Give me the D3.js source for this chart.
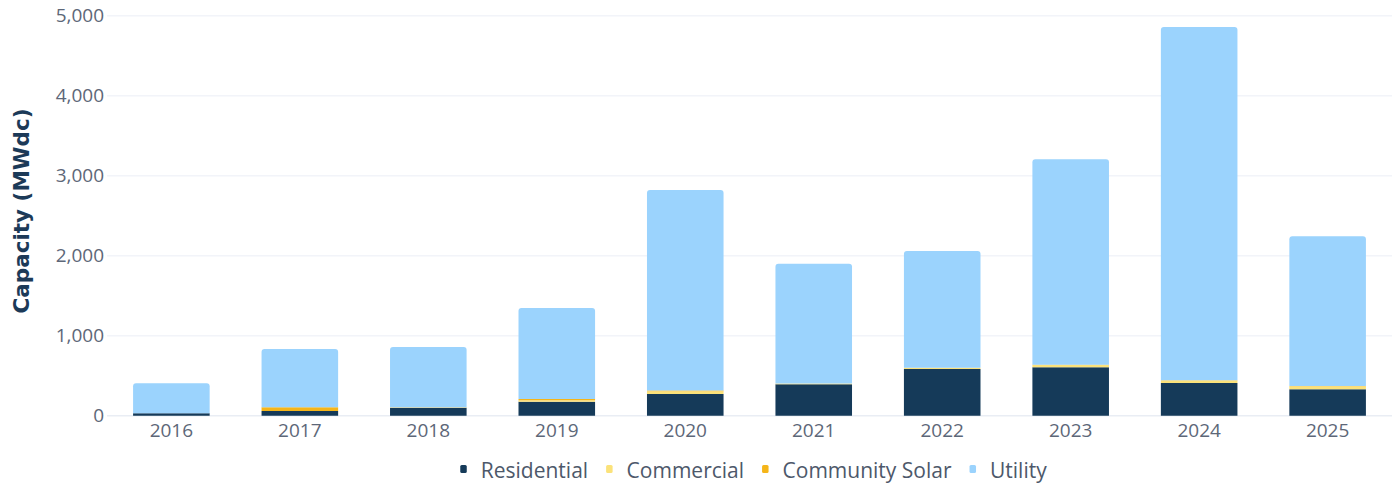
<!DOCTYPE html>
<html>
<head>
<meta charset="utf-8">
<script src="https://cdn.jsdelivr.net/npm/d3@7"></script>
<style>
  html, body { margin: 0; padding: 0; background: #ffffff; }
  svg { display: block; }
</style>
</head>
<body>
<svg id="chart" width="1397" height="484"></svg>
<script>
// ---- data ----
const years = ["2016","2017","2018","2019","2020","2021","2022","2023","2024","2025"];
const residential    = [30, 59, 100, 175, 271, 392, 584, 605, 409, 330];
const commercial     = [0, 0, 5, 18, 35, 10, 15, 30, 30, 38];
const communitySolar = [0, 46, 0, 15, 8, 0, 0, 3, 4, 3];
const utility        = [375, 728, 754, 1138, 2507, 1498, 1460, 2567, 4416, 1871];
const seriesNames = ["Residential", "Commercial", "Community Solar", "Utility"];
const yTicks = [0, 1000, 2000, 3000, 4000, 5000];

const colors = {
  "Residential": "#153a59",
  "Commercial": "#fbe27a",
  "Community Solar": "#f5b519",
  "Utility": "#9bd3fd"
};

const rows = years.map((y, i) => ({
  year: y,
  "Residential": residential[i],
  "Commercial": commercial[i],
  "Community Solar": communitySolar[i],
  "Utility": utility[i]
}));

const svg = d3.select("#chart");

const x = d3.scaleBand().domain(years).range([107, 1392]).paddingInner(0.404).paddingOuter(0.203);
const y = d3.scaleLinear().domain([0, 5000]).range([415.7, 15.7]);

// gridlines
svg.append("g").selectAll("line").data(yTicks).join("line")
  .attr("x1", 107).attr("x2", 1392)
  .attr("y1", d => y(d)).attr("y2", d => y(d))
  .attr("stroke", d => d === 0 ? "#e9edf4" : "#f2f4f9")
  .attr("stroke-width", 1.5);

// y tick labels
svg.append("g").selectAll("text").data(yTicks).join("text")
  .attr("x", 104).attr("y", d => y(d)).attr("dy", "0.35em")
  .attr("text-anchor", "end")
  .attr("font-family", "'Open Sans', sans-serif")
  .attr("font-size", 19)
  .attr("fill", "#5d6778")
  .text(d => d3.format(",")(d));

// y axis title
svg.append("text")
  .attr("transform", "translate(29,211) rotate(-90)")
  .attr("text-anchor", "middle")
  .attr("font-family", "'DejaVu Sans', sans-serif")
  .attr("font-weight", "bold")
  .attr("font-size", 21.5)
  .attr("fill", "#1c3a58")
  .text("Capacity (MWdc)");

// stacked bars
const stack = d3.stack().keys(seriesNames)(rows);
const topKey = seriesNames[seriesNames.length - 1];

function roundedTop(x0, y0, w, h, r) {
  r = Math.min(r, h, w / 2);
  return `M${x0},${y0 + h}V${y0 + r}Q${x0},${y0} ${x0 + r},${y0}H${x0 + w - r}Q${x0 + w},${y0} ${x0 + w},${y0 + r}V${y0 + h}Z`;
}

const gBars = svg.append("g");
stack.forEach(layer => {
  gBars.append("g").selectAll("path")
    .data(layer.filter(d => d[1] - d[0] > 0))
    .join("path")
    .attr("d", d => {
      const x0 = x(d.data.year), w = x.bandwidth();
      const y0 = y(d[1]), h = y(d[0]) - y(d[1]);
      return roundedTop(x0, y0, w, h, layer.key === topKey ? 3 : 0);
    })
    .attr("fill", colors[layer.key]);
});

// x labels
svg.append("g").selectAll("text").data(years).join("text")
  .attr("x", d => x(d) + x.bandwidth() / 2)
  .attr("y", 437)
  .attr("text-anchor", "middle")
  .attr("font-family", "'Open Sans', sans-serif")
  .attr("font-size", 19)
  .attr("fill", "#5d6778")
  .text(d => d);

// legend
const legend = svg.append("g");
const items = legend.selectAll("g").data(seriesNames).join("g");
items.append("rect")
  .attr("width", 6.5).attr("height", 8).attr("rx", 1.5)
  .attr("y", 465)
  .attr("fill", d => colors[d]);
items.append("text")
  .attr("x", 20.5).attr("y", 478)
  .attr("font-family", "'Open Sans', sans-serif")
  .attr("font-size", 21)
  .attr("fill", "#4d586a")
  .text(d => d);
let cx = 0;
const offsets = [];
items.each(function () {
  offsets.push(cx);
  const tw = d3.select(this).select("text").node().getComputedTextLength();
  cx += 20.5 + tw + 18;
});
const totalW = cx - 18;
const startX = 753.5 - totalW / 2;
items.attr("transform", (d, i) => `translate(${startX + offsets[i]},0)`);
</script>
</body>
</html>
